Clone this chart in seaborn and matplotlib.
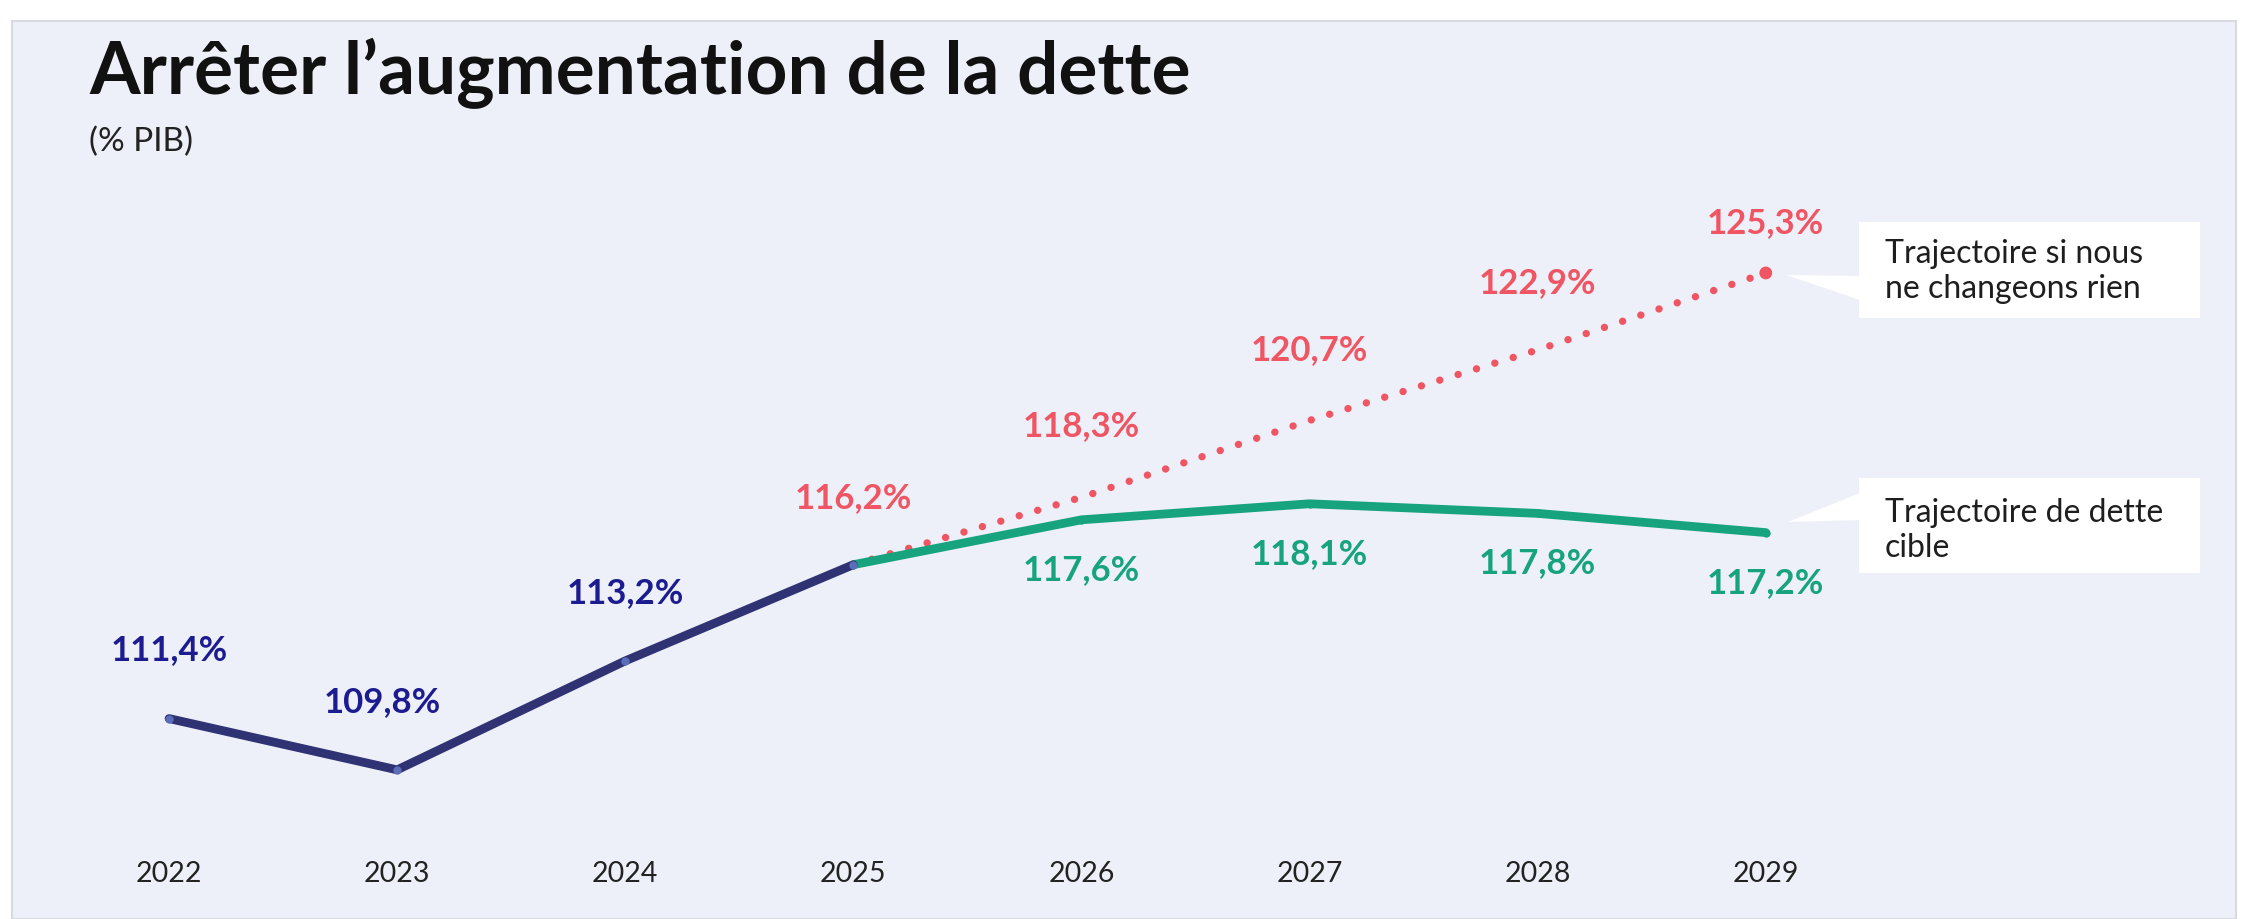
import matplotlib
matplotlib.use("Agg")
import matplotlib.pyplot as plt
import seaborn as sns
from matplotlib.patches import Rectangle, Polygon

# ---------------- data (dette publique, % PIB) ----------------
years = [2022, 2023, 2024, 2025, 2026, 2027, 2028, 2029]
hist_years = [2022, 2023, 2024, 2025]
hist_debt = [111.4, 109.8, 113.2, 116.2]
proj_years = [2025, 2026, 2027, 2028, 2029]
no_change = [116.2, 118.3, 120.7, 122.9, 125.3]
target = [116.2, 117.6, 118.1, 117.8, 117.2]

title = "Arrêter l’augmentation de la dette"
subtitle = "(% PIB)"
note_no_change = "Trajectoire si nous\nne changeons rien"
note_target = "Trajectoire de dette\ncible"

NAVY_LINE = "#2f3273"
NAVY_TXT = "#1c1b8f"
RED = "#ef5563"
GREEN = "#17a37d"
PANEL = "#edf0f8"

W, H = 2252, 919
sns.set_theme(style="white")
plt.rcParams["font.family"] = ["Lato", "DejaVu Sans"]


def px(x, y):
    return (x / W, 1 - y / H)


fig = plt.figure(figsize=(W / 100, H / 100), dpi=100)
fig.patch.set_facecolor("white")
fig.patches.append(Rectangle(px(12, 919), (2236 - 12) / W, (919 - 21) / H,
                             transform=fig.transFigure, facecolor=PANEL,
                             edgecolor="#d8dae2", lw=1.5, zorder=-5))

ax = fig.add_axes([55 / W, (H - 850) / H, (2222 - 55) / W, (850 - 186.4) / H])
ax.set_facecolor("none")
ax.set_zorder(2)

sns.lineplot(x=proj_years, y=no_change, ax=ax, color=RED, lw=5.3,
             linestyle=(0, (0.01, 2.6)), dash_capstyle="round", zorder=2)
sns.scatterplot(x=proj_years[-1:], y=no_change[-1:], ax=ax, color=RED,
                s=85, edgecolor="none", zorder=3)
sns.lineplot(x=proj_years, y=target, ax=ax, color=GREEN, lw=6.3,
             marker="o", markersize=6, markeredgecolor="none", zorder=4)
sns.lineplot(x=hist_years, y=hist_debt, ax=ax, color=NAVY_LINE, lw=6.3,
             marker="o", markersize=6, markerfacecolor="#5b6cb8",
             markeredgecolor="none", zorder=5)

ax.set_xlim(2021.5, 2031)
ax.set_ylim(107.3, 128)


def fmt(v):
    return f"{v:.1f}".replace(".", ",") + "%"


lab_kw = dict(textcoords="offset points", ha="center", va="center",
              fontsize=25, fontweight="bold")
navy_dx = [0, -11, 0]
for x, v, dx in zip(hist_years[:-1], hist_debt[:-1], navy_dx):
    ax.annotate(fmt(v), (x, v), xytext=(dx, 49), color=NAVY_TXT, **lab_kw)
red_off = [48, 51, 51, 48, 36]
for x, v, off in zip(proj_years, no_change, red_off):
    ax.annotate(fmt(v), (x, v), xytext=(0, off), color=RED, **lab_kw)
for x, v in zip(proj_years[1:], target[1:]):
    ax.annotate(fmt(v), (x, v), xytext=(0, -36), color=GREEN, **lab_kw)

ax.set_xticks(years)
ax.set_xticklabels([str(y) for y in years], fontsize=20.5, color="#222222")
ax.set_yticks([])
ax.tick_params(axis="x", length=0, pad=8)
sns.despine(ax=ax, left=True, bottom=True)
ax.set_xlabel("")
ax.set_ylabel("")

# title block
fig.text(*px(89, 94), title, fontsize=52.5, fontweight="bold", color="#111111",
         va="baseline", ha="left")
fig.text(*px(89, 151), subtitle, fontsize=24, color="#222222",
         va="baseline", ha="left")

# callouts
for box, tip, text, ty in [
    ((1859, 222, 2200, 318), [(1786, 275), (1860, 276), (1860, 300)], note_no_change, 243),
    ((1859, 478, 2200, 573), [(1788, 522), (1860, 493), (1860, 520)], note_target, 502),
]:
    x0, y0, x1, y1 = box
    fig.patches.append(Rectangle(px(x0, y1), (x1 - x0) / W, (y1 - y0) / H,
                                 transform=fig.transFigure, facecolor="white",
                                 edgecolor="none", zorder=6))
    fig.patches.append(Polygon([px(a, b) for a, b in tip], closed=True,
                               transform=fig.transFigure, facecolor="white",
                               edgecolor="none", zorder=6))
    fig.text(*px(1885, ty - 4), text, fontsize=23, color="#1e1e1e",
             va="top", ha="left", linespacing=1.2, zorder=7)

fig.savefig("out.png", dpi=100)
